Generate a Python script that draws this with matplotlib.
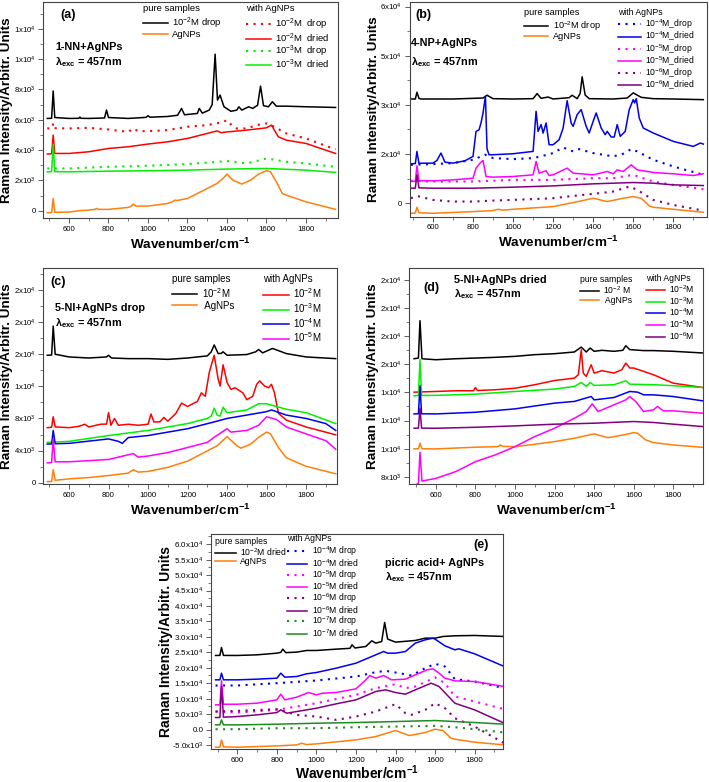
import numpy as np
import matplotlib.pyplot as plt
from matplotlib.legend import Legend
from matplotlib.ticker import FixedLocator, FixedFormatter, MultipleLocator

plt.rcParams['font.family'] = ['Liberation Sans', 'DejaVu Sans']
plt.rcParams['mathtext.fontset'] = 'custom'
plt.rcParams['mathtext.rm'] = 'Liberation Sans'
plt.rcParams['mathtext.it'] = 'Liberation Sans:italic'
plt.rcParams['mathtext.bf'] = 'Liberation Sans:bold'
plt.rcParams['mathtext.default'] = 'regular'

# ---------------------------------------------------------------- data
# every series: (wavenumber cm-1, intensity)

# (a) 1-NN + AgNPs
A_PURE = [(490, 6090), (512, 6100), (520, 7900), (528, 6150), (600, 6090), (650, 6100), (655, 6180),
          (660, 6100), (700, 6090), (780, 6120), (790, 6640), (800, 6150), (900, 6090), (990, 6160),
          (1000, 6270), (1010, 6170), (1100, 6220), (1150, 6300), (1170, 6750), (1185, 6330),
          (1250, 6420), (1260, 6750), (1275, 6440), (1310, 6640), (1325, 7000), (1340, 10330),
          (1352, 7300), (1365, 7630), (1385, 6860), (1420, 6560), (1450, 6640), (1460, 6860),
          (1475, 6640), (1510, 6860), (1530, 6750), (1555, 6960), (1570, 8220), (1585, 6930),
          (1610, 6860), (1630, 7190), (1650, 6900), (1700, 6900), (1800, 6860), (1950, 6815)]
A_AGNP = [(490, -130), (512, -120), (520, 810), (528, -100), (600, -90), (650, 0), (700, 40), (730, 90),
          (740, 150), (750, 90), (800, 90), (900, 220), (915, 300), (925, 440), (940, 300), (1000, 310),
          (1100, 480), (1125, 600), (1135, 700), (1150, 680), (1200, 810), (1250, 1140), (1300, 1470),
          (1350, 1800), (1380, 2130), (1400, 2420), (1430, 2020), (1475, 1760), (1520, 2020),
          (1560, 2420), (1600, 2640), (1620, 2570), (1650, 1910), (1680, 1140), (1700, 1030),
          (1800, 590), (1950, 90)]
A_E2_DROP = [(490, 5430), (515, 5450), (520, 5760), (525, 5450), (600, 5430), (700, 5470), (800, 5360),
             (900, 5200), (925, 5430), (950, 5250), (1000, 5250), (1100, 5320), (1200, 5540), (1300, 5650),
             (1380, 5850), (1400, 5980), (1420, 5700), (1450, 5430), (1500, 5430), (1550, 5650),
             (1600, 5760), (1640, 5540), (1700, 5100), (1800, 4770), (1950, 4045)]
A_E2_DRIED = [(490, 3740), (512, 3760), (520, 4990), (528, 3780), (600, 3780), (700, 3890), (800, 4110),
              (900, 4220), (1000, 4400), (1100, 4550), (1200, 4770), (1300, 5100), (1350, 5270),
              (1370, 5150), (1400, 5200), (1500, 5320), (1600, 5470), (1625, 5650), (1660, 4880),
              (1700, 4660), (1800, 4440), (1950, 3780)]
A_E3_DROP = [(490, 2790), (600, 2790), (800, 2900), (1000, 2970), (1200, 3080), (1400, 3275), (1500, 3120),
             (1600, 3450), (1700, 3230), (1800, 3120), (1950, 2900)]
A_E3_DRIED = [(490, 2570), (512, 2580), (520, 4400), (528, 2580), (600, 2570), (800, 2610), (1000, 2640),
              (1200, 2680), (1400, 2750), (1600, 2790), (1800, 2680), (1950, 2530)]

# (b) 4-NP + AgNPs
B_PURE = [(490, 31800), (512, 31800), (520, 33860), (530, 32000), (540, 31800), (700, 31800), (850, 32100),
          (870, 32950), (900, 31900), (1000, 31800), (1100, 31900), (1120, 33450), (1140, 32000),
          (1175, 32400), (1200, 31800), (1280, 32200), (1295, 32950), (1320, 31900), (1335, 33500),
          (1345, 38560), (1360, 33000), (1380, 31900), (1500, 31800), (1570, 32100), (1600, 33660),
          (1640, 32300), (1700, 31900), (1800, 31800), (1950, 31600)]
B_AGNP = [(490, -3060), (512, -3000), (520, -1220), (530, -2900), (600, -3060), (800, -2550), (900, -2240),
          (925, -1840), (950, -2100), (1000, -1840), (1200, -1020), (1300, 200), (1400, 1530), (1470, 510),
          (1550, 1530), (1600, 2040), (1640, 1530), (1680, -820), (1700, -1220), (1800, -1840), (1950, -2750)]
B_E4_DROP = [(490, 11730), (600, 11940), (700, 12240), (800, 13260), (860, 14800), (900, 13770), (1000, 13460),
             (1100, 13770), (1150, 14480), (1200, 15300), (1250, 17030), (1300, 15810), (1330, 16520),
             (1400, 15300), (1450, 14790), (1500, 14280), (1550, 15100), (1590, 16520), (1620, 15810),
             (1700, 13260), (1800, 11220), (1950, 8670)]
B_E4_DRIED = [(490, 12040), (512, 12100), (520, 15800), (530, 12200), (600, 12240), (620, 13060), (640, 15300),
              (660, 12540), (700, 12240), (760, 12950), (800, 14280), (815, 21900), (830, 22400), (840, 24500),
              (850, 27500), (862, 32640), (870, 16600), (880, 14800), (900, 14800), (1000, 15100),
              (1100, 15810), (1115, 28050), (1125, 21930), (1140, 24000), (1150, 21400), (1165, 24500),
              (1180, 17850), (1200, 17850), (1230, 19380), (1250, 22950), (1270, 31300), (1290, 24480),
              (1300, 23460), (1320, 27030), (1340, 28560), (1365, 23460), (1380, 21420), (1400, 25000),
              (1415, 27540), (1440, 22950), (1460, 20910), (1470, 21930), (1490, 20200), (1505, 20200),
              (1520, 24000), (1535, 20400), (1560, 21930), (1580, 28560), (1600, 31600), (1607, 30600),
              (1615, 31900), (1630, 26010), (1650, 22950), (1700, 21420), (1800, 18870), (1900, 17340),
              (1935, 18360), (1950, 18050)]
B_E5_DROP = [(490, 6830), (600, 6630), (800, 6630), (1000, 7140), (1200, 7140), (1400, 7650), (1500, 7650),
             (1600, 8670), (1700, 6630), (1800, 5610), (1950, 4280)]
B_E5_DRIED = [(490, 6630), (512, 6700), (520, 11420), (530, 6900), (600, 6830), (700, 7140), (800, 7650),
              (815, 10700), (835, 12240), (850, 13060), (865, 8160), (900, 7960), (1000, 8160), (1100, 8670),
              (1115, 12750), (1130, 9180), (1165, 9900), (1180, 8470), (1200, 8670), (1270, 10710),
              (1300, 9180), (1400, 8670), (1470, 9690), (1500, 8980), (1520, 10200), (1550, 9690),
              (1590, 11730), (1620, 10200), (1700, 9400), (1800, 8980), (1900, 8470), (1950, 8980)]
B_E6_DROP = [(490, 1530), (520, 2240), (600, 1020), (700, 510), (800, 510), (900, 820), (1000, 1020),
             (1200, 1530), (1300, 2240), (1400, 2860), (1500, 3570), (1580, 5100), (1620, 4080),
             (1700, 1020), (1800, -510), (1950, -2240)]
B_E6_DRIED = [(490, 4590), (512, 4600), (520, 8670), (530, 4700), (600, 4590), (800, 4590), (1000, 4900),
              (1200, 5300), (1400, 5920), (1600, 6320), (1700, 6120), (1800, 5610), (1950, 5400)]

# (c) 5-NI + AgNPs drop
C_PURE = [(490, 15870), (512, 15900), (520, 19490), (530, 16000), (540, 15950), (600, 15660), (700, 15530),
          (790, 15660), (800, 15870), (815, 15530), (900, 15450), (1000, 15450), (1100, 15360),
          (1200, 15530), (1300, 15790), (1320, 16300), (1335, 17150), (1355, 16080), (1370, 16100),
          (1380, 16300), (1400, 15870), (1500, 15960), (1545, 16300), (1560, 16590), (1580, 16170),
          (1630, 16720), (1700, 16080), (1800, 15660), (1950, 15450)]
C_AGNP = [(490, 130), (512, 150), (520, 1620), (530, 300), (600, 470), (700, 640), (800, 890), (900, 1190),
          (925, 1620), (950, 1320), (1000, 1400), (1100, 1910), (1200, 2680), (1300, 3960), (1350, 4600),
          (1400, 5740), (1450, 4600), (1470, 4300), (1520, 4810), (1560, 5660), (1600, 6300), (1620, 6080),
          (1660, 4380), (1700, 3100), (1800, 2040), (1950, 1110)]
C_E2 = [(490, 6850), (512, 6900), (520, 8210), (530, 6950), (600, 6850), (650, 7020), (680, 7280), (700, 6940),
        (760, 7280), (790, 7300), (800, 8720), (812, 7150), (830, 8000), (850, 7150), (900, 7280), (950, 7150),
        (1000, 7280), (1015, 8550), (1030, 7570), (1060, 7570), (1080, 8130), (1100, 7660), (1140, 8600),
        (1170, 9910), (1200, 9490), (1250, 10130), (1270, 11190), (1290, 10760), (1310, 13740),
        (1335, 15870), (1355, 12890), (1365, 12040), (1380, 14680), (1400, 12470), (1420, 11610),
        (1440, 11830), (1480, 11190), (1500, 10340), (1530, 10760), (1550, 12250), (1565, 12680),
        (1590, 12040), (1610, 11830), (1625, 12250), (1640, 11190), (1660, 8640), (1700, 7790),
        (1800, 6940), (1950, 5960)]
C_E3 = [(490, 5020), (600, 5150), (800, 5870), (1000, 6510), (1200, 7360), (1300, 8000), (1320, 8300),
        (1335, 9280), (1350, 8420), (1365, 8300), (1380, 9400), (1400, 8720), (1500, 9060), (1560, 9830),
        (1600, 9830), (1650, 9490), (1700, 9150), (1800, 8720), (1950, 7360)]
C_E4 = [(490, 4810), (512, 4820), (520, 6510), (530, 4850), (600, 4900), (800, 5450), (850, 5150), (870, 4900),
        (900, 5620), (1000, 5870), (1200, 6720), (1335, 7570), (1400, 8000), (1500, 8420), (1600, 8850),
        (1625, 9060), (1700, 8420), (1800, 8000), (1900, 7360), (1950, 6510)]
C_E5 = [(490, 2470), (512, 2500), (520, 5450), (530, 2600), (600, 2600), (800, 2890), (925, 3620), (950, 3190),
        (1000, 3320), (1100, 3750), (1200, 4380), (1300, 5020), (1335, 5660), (1400, 6720), (1420, 6300),
        (1500, 6510), (1560, 7150), (1600, 8210), (1650, 7870), (1700, 6940), (1800, 6080), (1900, 5230),
        (1950, 4170)]

# (d) 5-NI + AgNPs dried
D_PURE = [(490, 16400), (512, 16450), (520, 19110), (530, 16400), (600, 16330), (700, 16400), (800, 16450),
          (900, 16500), (1000, 16570), (1100, 16690), (1200, 16760), (1300, 16880), (1335, 17230),
          (1360, 16880), (1380, 17160), (1400, 16930), (1440, 17000), (1500, 16930), (1545, 17000),
          (1560, 17330), (1580, 17050), (1650, 16980), (1700, 16980), (1800, 16930), (1950, 16810)]
D_AGNP = [(490, 9980), (512, 9990), (520, 10380), (530, 9990), (600, 9980), (800, 10100), (915, 10140),
          (925, 10260), (940, 10160), (1000, 10140), (1100, 10310), (1200, 10500), (1300, 10740),
          (1400, 11050), (1470, 10780), (1550, 10980), (1600, 11140), (1620, 11090), (1660, 10620),
          (1700, 10430), (1800, 10260), (1950, 10090)]
D_E2 = [(490, 14020), (600, 14070), (700, 14120), (790, 14120), (800, 14350), (810, 14140), (900, 14190),
        (1000, 14300), (1100, 14550), (1200, 14850), (1300, 15020), (1320, 15260), (1335, 17040),
        (1345, 15380), (1360, 15140), (1385, 15970), (1400, 15380), (1440, 15550), (1500, 15380),
        (1540, 15620), (1560, 16090), (1580, 15740), (1600, 15740), (1640, 15550), (1700, 15260),
        (1800, 14660), (1950, 14350)]
D_E3 = [(490, 13760), (512, 13780), (520, 16330), (528, 13790), (600, 13790), (800, 13880), (1000, 14070),
        (1200, 14240), (1300, 14430), (1335, 14710), (1360, 14430), (1380, 14710), (1400, 14500),
        (1500, 14550), (1560, 14830), (1580, 14590), (1700, 14550), (1800, 14480), (1950, 14350)]
D_E4 = [(490, 12470), (512, 12480), (520, 14470), (528, 12480), (600, 12470), (800, 12590), (1000, 12830),
        (1200, 13240), (1300, 13360), (1385, 13710), (1400, 13470), (1500, 13640), (1580, 14070),
        (1620, 14020), (1650, 13830), (1700, 13830), (1800, 13710), (1950, 13400)]
D_E5 = [(490, 7400), (512, 7500), (520, 9740), (530, 7690), (600, 7880), (700, 8360), (800, 9070), (900, 9550),
        (1000, 10140), (1100, 10860), (1200, 11450), (1300, 12160), (1360, 12640), (1390, 13190),
        (1420, 12640), (1500, 13120), (1560, 13470), (1580, 13710), (1610, 13360), (1650, 12640),
        (1700, 12760), (1720, 13000), (1750, 12690), (1800, 12690), (1950, 12520)]
D_E6 = [(490, 11450), (512, 11460), (520, 12880), (528, 11460), (600, 11450), (800, 11520), (1000, 11620),
        (1200, 11740), (1400, 11810), (1600, 11930), (1700, 11860), (1800, 11740), (1950, 11570)]

# (e) picric acid + AgNPs
E_PURE = [(490, 23980), (512, 24000), (520, 26570), (530, 24000), (600, 23980), (700, 24190), (800, 24730),
          (820, 25000), (830, 26030), (845, 24900), (900, 25060), (950, 25600), (1000, 25600), (1100, 26030),
          (1170, 26300), (1180, 27430), (1195, 26400), (1250, 26900), (1280, 28730), (1300, 27970),
          (1330, 28510), (1345, 34670), (1360, 29300), (1400, 28300), (1500, 28840), (1550, 29590),
          (1600, 29590), (1640, 30130), (1700, 30350), (1800, 30460), (1950, 30130)]
E_AGNP = [(490, -5720), (512, -5700), (520, -3350), (530, -5600), (600, -5720), (800, -5290), (900, -4970),
          (925, -4430), (950, -4860), (1000, -4640), (1200, -3350), (1300, -2270), (1400, -320),
          (1470, -1940), (1550, -970), (1600, 110), (1640, -320), (1680, -2800), (1700, -3130),
          (1800, -4100), (1950, -4970)]
E_E4_DROP = [(490, 14260), (600, 14260), (800, 15010), (1000, 15880), (1200, 17170), (1300, 18580),
             (1350, 19010), (1400, 18470), (1480, 17500), (1550, 19870), (1600, 21280), (1650, 20410),
             (1700, 16310), (1800, 15550), (1950, 13400)]
E_E4_DRIED = [(490, 16090), (512, 16100), (520, 18250), (530, 16100), (600, 16090), (700, 16310), (800, 16630),
              (820, 18250), (840, 16960), (900, 17170), (950, 18040), (1000, 18470), (1100, 19870),
              (1200, 21490), (1300, 24190), (1340, 25270), (1360, 24730), (1400, 24730), (1450, 25270),
              (1500, 27970), (1550, 29050), (1590, 29590), (1610, 28840), (1650, 27100), (1700, 25810),
              (1720, 26140), (1800, 24520), (1950, 20410)]
E_E5_DROP = [(490, 5830), (600, 5500), (800, 6370), (1000, 8530), (1200, 11230), (1300, 13400), (1400, 14690),
             (1450, 13400), (1500, 13930), (1600, 16850), (1650, 15010), (1700, 10690), (1800, 9070),
             (1950, 6590)]
E_E5_DRIED = [(490, 7990), (512, 8000), (520, 15770), (530, 8200), (600, 8200), (700, 8530), (800, 9610),
              (820, 11450), (840, 9610), (900, 10470), (960, 11990), (1000, 11230), (1030, 11770),
              (1100, 11990), (1200, 13180), (1250, 16090), (1270, 17500), (1300, 16630), (1340, 17500),
              (1380, 16090), (1450, 16310), (1500, 17710), (1560, 19330), (1590, 19660), (1620, 18250),
              (1650, 16630), (1700, 15770), (1800, 15550), (1950, 13930)]
E_E6_DROP = [(490, 5830), (600, 6050), (800, 6590), (900, 4750), (1000, 4210), (1100, 3130), (1200, 4210),
             (1300, 5830), (1400, 8210), (1450, 5290), (1480, 4750), (1550, 6370), (1600, 8530),
             (1650, 6910), (1700, 3670), (1800, 970), (1950, -4430)]
E_E6_DRIED = [(490, 3890), (512, 3900), (520, 13930), (530, 4000), (600, 4210), (700, 4750), (800, 5500),
              (820, 6370), (850, 5290), (900, 5830), (1000, 6910), (1100, 8320), (1200, 9610), (1300, 12310),
              (1350, 12850), (1400, 11990), (1450, 11450), (1500, 12850), (1580, 15010), (1620, 13930),
              (1700, 8530), (1800, 6370), (1950, 2050)]
E_E7_DROP = [(490, 110), (600, 110), (800, 430), (1000, 430), (1200, 750), (1400, 970), (1600, 1190),
             (1700, 750), (1800, 110), (1950, -970)]
E_E7_DRIED = [(490, 1510), (512, 1520), (520, 3130), (530, 1520), (600, 1510), (800, 1730), (1000, 2050),
              (1200, 2270), (1400, 2590), (1600, 2920), (1700, 2590), (1800, 2270), (1950, 1730)]

XTICKS = [600, 800, 1000, 1200, 1400, 1600, 1800]

A_YTICKS = [0, 2000, 4000, 6000, 8000, 10000, 12000]
A_YLABELS = ['0', '2x10$^{3}$', '4x10$^{3}$', '6x10$^{3}$', '8x10$^{3}$', '1x10$^{4}$', '1x10$^{4}$']
B_YTICKS = [0, 15000, 30000, 45000, 60000]
B_YLABELS = ['0', '2x10$^{4}$', '3x10$^{4}$', '5x10$^{4}$', '6x10$^{4}$']
C_YTICKS = [0, 4000, 8000, 12000, 16000, 20000, 24000]
C_YLABELS = ['0', '4x10$^{3}$', '8x10$^{3}$', '1x10$^{4}$', '2x10$^{4}$', '2x10$^{4}$', '2x10$^{4}$']
D_YTICKS = [8000, 10000, 12000, 14000, 16000, 18000, 20000, 22000]
D_YLABELS = ['8x10$^{3}$', '1x10$^{4}$', '1x10$^{4}$', '1x10$^{4}$', '2x10$^{4}$', '2x10$^{4}$',
             '2x10$^{4}$', '2x10$^{4}$']
E_YTICKS = [-5000, 0, 5000, 10000, 15000, 20000, 25000, 30000, 35000, 40000, 45000, 50000, 55000, 60000]
E_YLABELS = ['-5.0x10$^{3}$', '0.0', '5.0x10$^{3}$', '1.0x10$^{4}$', '1.5x10$^{4}$', '2.0x10$^{4}$',
             '2.5x10$^{4}$', '3.0x10$^{4}$', '3.5x10$^{4}$', '4.0x10$^{4}$', '4.5x10$^{4}$', '5.0x10$^{4}$',
             '5.5x10$^{4}$', '6.0x10$^{4}$']

# ---------------------------------------------------------------- style
BLACK = '#000000'
ORANGE = '#ff7f0a'
RED = '#ff0000'
GREEN = '#00f000'
BLUE = '#0000f0'
MAGENTA = '#ff00ff'
PURPLE = '#800080'
DKGREEN = '#1e8c1e'
DOT = (0, (1, 2.6))
LW = 1.1
SPINE = '#444444'


def trace(ax, pts, color, label, dotted=False):
    wn, val = zip(*pts)
    if dotted:
        line, = ax.plot(wn, val, color=color, lw=1.5, ls=DOT, label=label)
    else:
        line, = ax.plot(wn, val, color=color, lw=LW, label=label)
    return line


def frame(ax, xlim, ylim, yticks, ylabels, ylx, lab_fs=9.7, xly=-0.085, tick_fs=5.6):
    ax.set_xlim(xlim)
    ax.set_ylim(ylim)
    ax.xaxis.set_major_locator(FixedLocator(XTICKS))
    ax.xaxis.set_major_formatter(FixedFormatter([str(t) for t in XTICKS]))
    ax.xaxis.set_minor_locator(MultipleLocator(100))
    ax.yaxis.set_major_locator(FixedLocator(yticks))
    ax.yaxis.set_major_formatter(FixedFormatter(ylabels))
    step = yticks[1] - yticks[0]
    ax.yaxis.set_minor_locator(FixedLocator(np.arange(yticks[0] - step / 2, yticks[-1] + step, step)))
    ax.tick_params(which='major', direction='out', length=3.5, width=0.6, labelsize=tick_fs,
                   color=SPINE, pad=2)
    ax.tick_params(which='minor', direction='out', length=2, width=0.5, color=SPINE)
    for s in ax.spines.values():
        s.set_color(SPINE)
        s.set_linewidth(0.8)
    ax.set_ylabel('Raman Intensity/Arbitr. Units', fontsize=lab_fs, fontweight='bold')
    ax.yaxis.set_label_coords(ylx, 0.5)
    ax.set_xlabel('Wavenumber/cm$^{\\mathbf{-1}}$', fontsize=lab_fs, fontweight='bold')
    ax.xaxis.set_label_coords(0.5, xly)


def legend_block(ax, handles, title, title_xy, rows_y, fs, sp, hl=2.6):
    # title as plain text, entries as a frameless legend just below it
    ax.text(title_xy[0], title_xy[1], title, transform=ax.transAxes, fontsize=fs, va='center', ha='left')
    leg = Legend(ax, handles, [h.get_label() for h in handles], loc='upper left',
                 bbox_to_anchor=(title_xy[0], rows_y), frameon=False, fontsize=fs, handlelength=hl,
                 handletextpad=0.5, labelspacing=sp, borderpad=0, borderaxespad=0)
    ax.add_artist(leg)


def notes(ax, tag, tag_xy, name, name_xy, lam_y, fs=7.8):
    ax.text(tag_xy[0], tag_xy[1], tag, transform=ax.transAxes, fontsize=9, fontweight='bold',
            va='center', ha='left')
    ax.text(name_xy[0], name_xy[1], name, transform=ax.transAxes, fontsize=fs, fontweight='bold',
            va='center', ha='left')
    ax.text(name_xy[0], lam_y, 'λ$_{\\mathbf{exc}}$ = 457nm', transform=ax.transAxes, fontsize=fs,
            fontweight='bold', va='center', ha='left')


fig = plt.figure(figsize=(7.09, 7.82), dpi=100)
ax_a = fig.add_axes([0.0611, 0.7212, 0.4150, 0.2762])
ax_b = fig.add_axes([0.5776, 0.7229, 0.4192, 0.2746])
ax_c = fig.add_axes([0.0611, 0.3807, 0.4138, 0.2762])
ax_d = fig.add_axes([0.5773, 0.3807, 0.4142, 0.2762])
ax_e = fig.add_axes([0.2976, 0.0418, 0.4123, 0.2753])

# (a)
p1 = trace(ax_a, A_PURE, BLACK, '10$^{-2}$M drop')
p2 = trace(ax_a, A_AGNP, ORANGE, 'AgNPs')
w1 = trace(ax_a, A_E2_DROP, RED, '10$^{-2}$M  drop', dotted=True)
w2 = trace(ax_a, A_E2_DRIED, RED, '10$^{-2}$M  dried')
w3 = trace(ax_a, A_E3_DROP, GREEN, '10$^{-3}$M  drop', dotted=True)
w4 = trace(ax_a, A_E3_DRIED, GREEN, '10$^{-3}$M  dried')
frame(ax_a, (470, 1960), (-480, 13770), A_YTICKS, A_YLABELS, -0.103)
legend_block(ax_a, [p1, p2], 'pure samples', (0.339, 0.968), 0.935, 6.8, -0.12)
legend_block(ax_a, [w1, w2, w3, w4], 'with AgNPs', (0.689, 0.968), 0.93, 6.8, -0.12)
notes(ax_a, '(a)', (0.057, 0.94), '1-NN+AgNPs', (0.04, 0.79), 0.722)

# (b)
p1 = trace(ax_b, B_PURE, BLACK, '10$^{-2}$M drop')
p2 = trace(ax_b, B_AGNP, ORANGE, 'AgNPs')
w1 = trace(ax_b, B_E4_DROP, BLUE, '10$^{-4}$M_drop', dotted=True)
w2 = trace(ax_b, B_E4_DRIED, BLUE, '10$^{-4}$M_dried')
w3 = trace(ax_b, B_E5_DROP, MAGENTA, '10$^{-5}$M_drop', dotted=True)
w4 = trace(ax_b, B_E5_DRIED, MAGENTA, '10$^{-5}$M_dried')
w5 = trace(ax_b, B_E6_DROP, PURPLE, '10$^{-6}$M_drop', dotted=True)
w6 = trace(ax_b, B_E6_DRIED, PURPLE, '10$^{-6}$M_dried')
frame(ax_b, (483, 1967), (-4100, 61400), B_YTICKS, B_YLABELS, -0.10)
legend_block(ax_b, [p1, p2], 'pure samples', (0.386, 0.949), 0.918, 6.6, -0.1)
legend_block(ax_b, [w1, w2, w3, w4, w5, w6], 'with AgNPs', (0.702, 0.949), 0.927, 6.2, -0.15)
notes(ax_b, '(b)', (0.019, 0.94), '4-NP+AgNPs', (0.005, 0.809), 0.722)

# (c)
p1 = trace(ax_c, C_PURE, BLACK, '10$^{-2}$M')
p2 = trace(ax_c, C_AGNP, ORANGE, ' AgNPs')
w1 = trace(ax_c, C_E2, RED, '10$^{-2}$M')
w2 = trace(ax_c, C_E3, GREEN, '10$^{-3}$M')
w3 = trace(ax_c, C_E4, BLUE, '10$^{-4}$M')
w4 = trace(ax_c, C_E5, MAGENTA, '10$^{-5}$M')
frame(ax_c, (470, 1955), (-200, 26700), C_YTICKS, C_YLABELS, -0.102)
legend_block(ax_c, [p1, p2], 'pure samples', (0.438, 0.95), 0.918, 7.0, 0.08)
legend_block(ax_c, [w1, w2, w3, w4], 'with AgNPs', (0.75, 0.95), 0.915, 7.0, 0.08)
notes(ax_c, '(c)', (0.023, 0.938), '5-NI+AgNPs drop', (0.04, 0.816), 0.747)

# (d)
p1 = trace(ax_d, D_PURE, BLACK, '10$^{-2}$ M')
p2 = trace(ax_d, D_AGNP, ORANGE, ' AgNPs')
w1 = trace(ax_d, D_E2, RED, '10$^{-2}$M')
w2 = trace(ax_d, D_E3, GREEN, '10$^{-3}$M')
w3 = trace(ax_d, D_E4, BLUE, '10$^{-4}$M')
w4 = trace(ax_d, D_E5, MAGENTA, '10$^{-5}$M')
w5 = trace(ax_d, D_E6, PURPLE, '10$^{-6}$M')
frame(ax_d, (466, 1950), (7460, 22840), D_YTICKS, D_YLABELS, -0.102)
legend_block(ax_d, [p1, p2], 'pure samples', (0.582, 0.946), 0.925, 6.2, 0.02, hl=2.2)
legend_block(ax_d, [w1, w2, w3, w4, w5], 'with AgNPs', (0.806, 0.954), 0.932, 6.2, 0.02, hl=2.2)
notes(ax_d, '(d)', (0.047, 0.909), '5-NI+AgNPs dried', (0.151, 0.946), 0.88)

# (e)
p1 = trace(ax_e, E_PURE, BLACK, '10$^{-2}$M dried')
p2 = trace(ax_e, E_AGNP, ORANGE, 'AgNPs')
w1 = trace(ax_e, E_E4_DROP, BLUE, '10$^{-4}$M drop', dotted=True)
w2 = trace(ax_e, E_E4_DRIED, BLUE, '10$^{-4}$M dried')
w3 = trace(ax_e, E_E5_DROP, MAGENTA, '10$^{-5}$M drop', dotted=True)
w4 = trace(ax_e, E_E5_DRIED, MAGENTA, '10$^{-5}$M dried')
w5 = trace(ax_e, E_E6_DROP, PURPLE, '10$^{-6}$M drop', dotted=True)
w6 = trace(ax_e, E_E6_DRIED, PURPLE, '10$^{-6}$M dried')
w7 = trace(ax_e, E_E7_DROP, DKGREEN, '10$^{-7}$M drop', dotted=True)
w8 = trace(ax_e, E_E7_DRIED, DKGREEN, '10$^{-7}$M dried')
frame(ax_e, (467, 1945), (-6400, 63300), E_YTICKS, E_YLABELS, -0.131, lab_fs=10.0, xly=-0.064, tick_fs=5.8)
legend_block(ax_e, [p1, p2], 'pure samples', (0.014, 0.964), 0.944, 6.2, -0.12, hl=2.4)
legend_block(ax_e, [w1, w2, w3, w4, w5, w6, w7, w8], 'with AgNPs', (0.259, 0.98), 0.951, 6.2, -0.12, hl=2.4)
notes(ax_e, '(e)', (0.896, 0.949), 'picric acid+ AgNPs', (0.595, 0.864), 0.802)

fig.savefig('out.png', dpi=100)
